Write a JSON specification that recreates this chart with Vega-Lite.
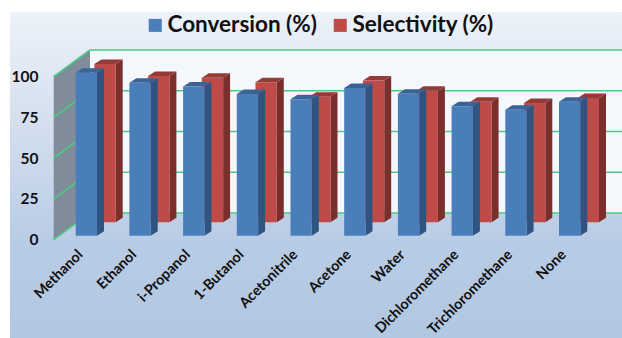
{
  "$schema": "https://vega.github.io/schema/vega-lite/v6.json",
  "width": 622,
  "height": 338,
  "padding": 0,
  "autosize": {"type": "none"},
  "background": "white",
  "view": {"stroke": null},
  "datasets": {
    "bars": [
      {"solvent": "Methanol", "order": 0, "series": "Conversion (%)", "value": 100},
      {"solvent": "Ethanol", "order": 1, "series": "Conversion (%)", "value": 93.9},
      {"solvent": "i-Propanol", "order": 2, "series": "Conversion (%)", "value": 91.6},
      {"solvent": "1-Butanol", "order": 3, "series": "Conversion (%)", "value": 87},
      {"solvent": "Acetonitrile", "order": 4, "series": "Conversion (%)", "value": 83.7},
      {"solvent": "Acetone", "order": 5, "series": "Conversion (%)", "value": 90.6},
      {"solvent": "Water", "order": 6, "series": "Conversion (%)", "value": 87.1},
      {"solvent": "Dichloromethane", "order": 7, "series": "Conversion (%)", "value": 79.4},
      {"solvent": "Trichloromethane", "order": 8, "series": "Conversion (%)", "value": 77.3},
      {"solvent": "None", "order": 9, "series": "Conversion (%)", "value": 82.2},
      {"solvent": "Methanol", "order": 0, "series": "Selectivity (%)", "value": 97.1},
      {"solvent": "Ethanol", "order": 1, "series": "Selectivity (%)", "value": 89.8},
      {"solvent": "i-Propanol", "order": 2, "series": "Selectivity (%)", "value": 88.7},
      {"solvent": "1-Butanol", "order": 3, "series": "Selectivity (%)", "value": 86},
      {"solvent": "Acetonitrile", "order": 4, "series": "Selectivity (%)", "value": 77},
      {"solvent": "Acetone", "order": 5, "series": "Selectivity (%)", "value": 87},
      {"solvent": "Water", "order": 6, "series": "Selectivity (%)", "value": 80.7},
      {"solvent": "Dichloromethane", "order": 7, "series": "Selectivity (%)", "value": 74},
      {"solvent": "Trichloromethane", "order": 8, "series": "Selectivity (%)", "value": 73.2},
      {"solvent": "None", "order": 9, "series": "Selectivity (%)", "value": 76.3}
    ],
    "ticks": [{"tick": 0}, {"tick": 25}, {"tick": 50}, {"tick": 75}, {"tick": 100}],
    "depths": [{"depth": 0}, {"depth": 1}]
  },
  "layer": [
    {
      "description": "Chart area with its vertical blue gradient; this layer also carries the value axis",
      "data": {"values": [{"panel": "chart area"}]},
      "mark": {
        "type": "rect",
        "fill": {"gradient": "linear", "x1": 0, "y1": 0, "x2": 0, "y2": 1, "stops": [
          {"offset": 0, "color": "#edf2f9"},
          {"offset": 0.35, "color": "#d3dfee"},
          {"offset": 0.7, "color": "#b9cce5"},
          {"offset": 1, "color": "#b2c7e1"}
        ]}
      },
      "encoding": {
        "x": {"datum": -1.2235, "type": "quantitative", "scale": {"domain": [-1.4097, 10.1732]}, "axis": null},
        "x2": {"datum": 10.1732},
        "y": {"datum": 139.7, "type": "quantitative", "scale": {"domain": [-60.3, 147.06]},
          "axis": {"values": [0, 25, 50, 75, 100], "title": null, "offset": -38, "domain": false, "ticks": false, "grid": false, "zindex": 1,
            "labelFont": "Lato", "labelFontWeight": "bold", "labelFontSize": 15.5, "labelColor": "#111111", "labelPadding": 0}},
        "y2": {"datum": -60.3}
      }
    },
    {
      "description": "Back wall behind the bars",
      "data": {"values": [{"panel": "back wall"}]},
      "mark": {"type": "rect", "fill": "#f4f7fc"},
      "encoding": {
        "x": {"datum": 0.266, "type": "quantitative", "scale": {"domain": [-1.4097, 10.1732]}, "axis": null},
        "x2": {"datum": 10.1732},
        "y": {"datum": 116.38, "type": "quantitative", "scale": {"domain": [-60.3, 147.06]}},
        "y2": {"datum": 16.38}
      }
    },
    {
      "description": "Grey side wall receding from the value axis to the back wall",
      "data": {"name": "depths"},
      "transform": [
        {"calculate": "-0.4097 + datum.depth * 0.6757", "as": "wx"},
        {"calculate": "datum.depth * 16.38", "as": "low"},
        {"calculate": "100 + datum.depth * 16.38", "as": "high"}
      ],
      "mark": {"type": "area", "fill": "#808c9a"},
      "encoding": {
        "x": {"field": "wx", "type": "quantitative", "scale": {"domain": [-1.4097, 10.1732]}, "axis": null},
        "y": {"field": "high", "type": "quantitative", "scale": {"domain": [-60.3, 147.06]}},
        "y2": {"field": "low"}
      }
    },
    {
      "description": "Gridlines: diagonal on the side wall, level on the back wall",
      "data": {"name": "ticks"},
      "transform": [
        {"calculate": "datum.tick + 16.38", "as": "backY"},
        {"calculate": "-0.4097", "as": "frontX"},
        {"calculate": "0.266", "as": "backX"},
        {"calculate": "10.1732", "as": "endX"}
      ],
      "layer": [
        {
          "mark": {"type": "rule", "stroke": "#4ccb82", "strokeWidth": 1.6},
          "encoding": {
            "x": {"field": "frontX", "type": "quantitative", "scale": {"domain": [-1.4097, 10.1732]}, "axis": null},
            "x2": {"field": "backX"},
            "y": {"field": "tick", "type": "quantitative", "scale": {"domain": [-60.3, 147.06]}},
            "y2": {"field": "backY"}
          }
        },
        {
          "mark": {"type": "rule", "stroke": "#4ccb82", "strokeWidth": 1.6},
          "encoding": {
            "x": {"field": "backX", "type": "quantitative", "scale": {"domain": [-1.4097, 10.1732]}, "axis": null},
            "x2": {"field": "endX"},
            "y": {"field": "backY", "type": "quantitative", "scale": {"domain": [-60.3, 147.06]}}
          }
        }
      ]
    },
    {
      "description": "Extruded bars: selectivity behind, conversion in front",
      "data": {"name": "bars"},
      "transform": [
        {"calculate": "datum.series === 'Conversion (%)' ? datum.order : datum.order + 0.348", "as": "left"},
        {"calculate": "datum.left + 0.397", "as": "right"},
        {"calculate": "datum.series === 'Conversion (%)' ? 2.45 : 10.67", "as": "base"},
        {"calculate": "datum.base + datum.value", "as": "top"}
      ],
      "layer": [
        {
          "transform": [
            {"filter": "datum.series === 'Selectivity (%)'"},
            {"fold": ["near", "far"], "as": ["corner", "unused"]},
            {"calculate": "datum.corner === 'far' ? datum.right + 0.13 : datum.right", "as": "sx"},
            {"calculate": "datum.corner === 'far' ? datum.top + 2.76 : datum.top", "as": "sTop"},
            {"calculate": "datum.corner === 'far' ? datum.base + 2.76 : datum.base", "as": "sBase"}
          ],
          "mark": {"type": "area", "fill": "#7b2f2d"},
          "encoding": {
            "x": {"field": "sx", "type": "quantitative", "scale": {"domain": [-1.4097, 10.1732]}, "axis": null},
            "y": {"field": "sTop", "type": "quantitative", "scale": {"domain": [-60.3, 147.06]}},
            "y2": {"field": "sBase"},
            "detail": {"field": "solvent"}
          }
        },
        {
          "transform": [
            {"filter": "datum.series === 'Selectivity (%)'"},
            {"fold": ["c0", "c1", "c2", "c3"], "as": ["corner", "unused"]},
            {"calculate": "datum.left + (datum.corner === 'c1' || datum.corner === 'c3' ? 0.13 : 0) + (datum.corner === 'c2' || datum.corner === 'c3' ? 0.397 : 0)", "as": "tx"},
            {"calculate": "datum.corner === 'c3' ? datum.top + 2.76 : datum.top", "as": "tLow"},
            {"calculate": "datum.corner === 'c0' ? datum.top : datum.top + 2.76", "as": "tHigh"}
          ],
          "mark": {"type": "area", "fill": "#933b38"},
          "encoding": {
            "x": {"field": "tx", "type": "quantitative", "scale": {"domain": [-1.4097, 10.1732]}, "axis": null},
            "y": {"field": "tHigh", "type": "quantitative", "scale": {"domain": [-60.3, 147.06]}},
            "y2": {"field": "tLow"},
            "detail": {"field": "solvent"}
          }
        },
        {
          "transform": [
            {"filter": "datum.series === 'Selectivity (%)'"}
          ],
          "mark": {"type": "rect"},
          "encoding": {
            "x": {"field": "left", "type": "quantitative", "scale": {"domain": [-1.4097, 10.1732]}, "axis": null},
            "x2": {"field": "right"},
            "y": {"field": "top", "type": "quantitative", "scale": {"domain": [-60.3, 147.06]}},
            "y2": {"field": "base"},
            "color": {
              "field": "series", "type": "nominal",
              "scale": {"domain": ["Conversion (%)", "Selectivity (%)"], "range": ["#4a7ebb", "#be4b48"]},
              "legend": {"orient": "none", "legendX": 144, "legendY": 14, "direction": "horizontal", "columns": 2, "title": null,
                "symbolType": "square", "symbolSize": 170, "symbolStrokeWidth": 0, "symbolOpacity": 1,
                "labelFont": "Lato", "labelFontWeight": "bold", "labelFontSize": 22.5, "labelColor": "#111111", "labelOffset": 1, "columnPadding": 12, "labelLimit": 300}
            }
          }
        },
        {
          "transform": [
            {"filter": "datum.series === 'Conversion (%)'"},
            {"fold": ["near", "far"], "as": ["corner", "unused"]},
            {"calculate": "datum.corner === 'far' ? datum.right + 0.13 : datum.right", "as": "sx"},
            {"calculate": "datum.corner === 'far' ? datum.top + 2.76 : datum.top", "as": "sTop"},
            {"calculate": "datum.corner === 'far' ? datum.base + 2.76 : datum.base", "as": "sBase"}
          ],
          "mark": {"type": "area", "fill": "#305480"},
          "encoding": {
            "x": {"field": "sx", "type": "quantitative", "scale": {"domain": [-1.4097, 10.1732]}, "axis": null},
            "y": {"field": "sTop", "type": "quantitative", "scale": {"domain": [-60.3, 147.06]}},
            "y2": {"field": "sBase"},
            "detail": {"field": "solvent"}
          }
        },
        {
          "transform": [
            {"filter": "datum.series === 'Conversion (%)'"},
            {"fold": ["c0", "c1", "c2", "c3"], "as": ["corner", "unused"]},
            {"calculate": "datum.left + (datum.corner === 'c1' || datum.corner === 'c3' ? 0.13 : 0) + (datum.corner === 'c2' || datum.corner === 'c3' ? 0.397 : 0)", "as": "tx"},
            {"calculate": "datum.corner === 'c3' ? datum.top + 2.76 : datum.top", "as": "tLow"},
            {"calculate": "datum.corner === 'c0' ? datum.top : datum.top + 2.76", "as": "tHigh"}
          ],
          "mark": {"type": "area", "fill": "#3a6396"},
          "encoding": {
            "x": {"field": "tx", "type": "quantitative", "scale": {"domain": [-1.4097, 10.1732]}, "axis": null},
            "y": {"field": "tHigh", "type": "quantitative", "scale": {"domain": [-60.3, 147.06]}},
            "y2": {"field": "tLow"},
            "detail": {"field": "solvent"}
          }
        },
        {
          "transform": [
            {"filter": "datum.series === 'Conversion (%)'"}
          ],
          "mark": {"type": "rect"},
          "encoding": {
            "x": {"field": "left", "type": "quantitative", "scale": {"domain": [-1.4097, 10.1732]}, "axis": null},
            "x2": {"field": "right"},
            "y": {"field": "top", "type": "quantitative", "scale": {"domain": [-60.3, 147.06]}},
            "y2": {"field": "base"},
            "color": {"field": "series", "type": "nominal"}
          }
        },
        {
          "description": "Solvent names, slanted under each bar pair",
          "transform": [
            {"filter": "datum.series === 'Conversion (%)'"}
          ],
          "mark": {"type": "text", "angle": -45, "align": "right", "baseline": "middle", "font": "Lato", "fontWeight": "bold", "fontSize": 14.4, "color": "#111111", "xOffset": 5},
          "encoding": {
            "x": {"field": "order", "type": "quantitative", "scale": {"domain": [-1.4097, 10.1732]}, "axis": null},
            "y": {"datum": -8, "type": "quantitative", "scale": {"domain": [-60.3, 147.06]}},
            "text": {"field": "solvent"}
          }
        }
      ]
    }
  ]
}
